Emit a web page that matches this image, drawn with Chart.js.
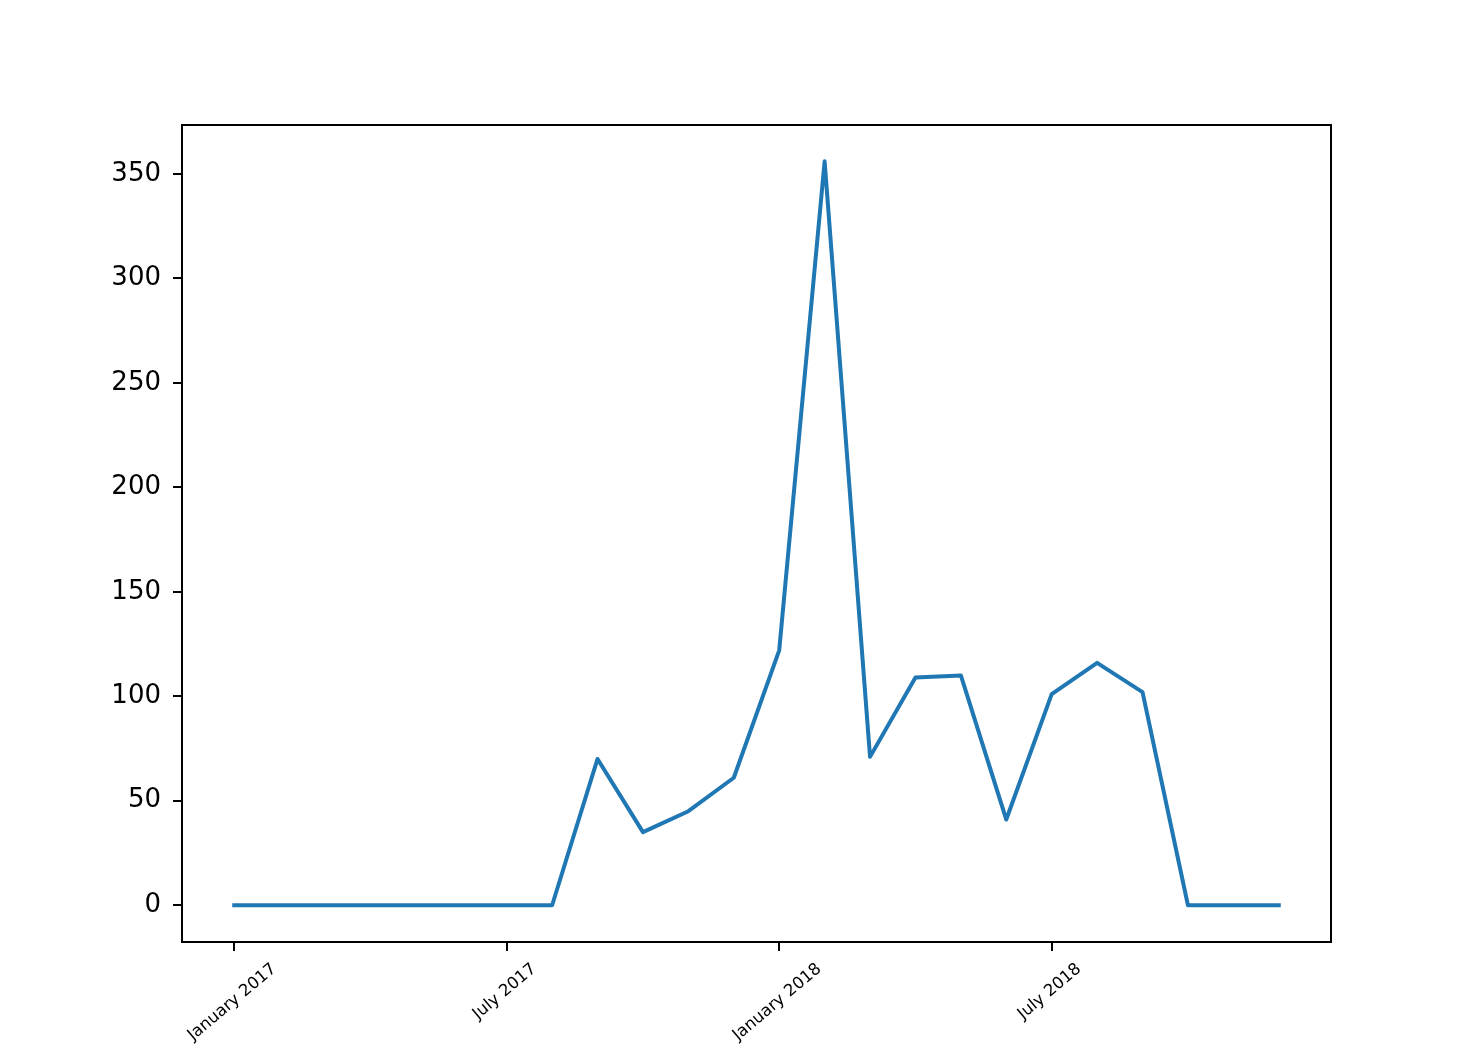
<!DOCTYPE html>
<html lang="en">
<head>
    <meta charset="UTF-8">
    <title>Monthly count 2017-2018</title>
    <script src="https://cdn.jsdelivr.net/npm/chart.js"></script>
    <style>
        body {
            margin: 0;
            background-color: white;
        }
        canvas {
            display: block;
        }
    </style>
</head>
<body>
    <canvas id="lineChart" width="1474" height="1056"></canvas>

    <script>
        // one value per month, January 2017 .. December 2018
        const months = [
            '2017-01', '2017-02', '2017-03', '2017-04', '2017-05', '2017-06',
            '2017-07', '2017-08', '2017-09', '2017-10', '2017-11', '2017-12',
            '2018-01', '2018-02', '2018-03', '2018-04', '2018-05', '2018-06',
            '2018-07', '2018-08', '2018-09', '2018-10', '2018-11', '2018-12'
        ];
        const counts = [0, 0, 0, 0, 0, 0, 0, 0, 70, 35, 45, 61,
                        122, 356, 71, 109, 110, 41, 101, 116, 102, 0, 0, 0];

        const xTickIndex = [0, 6, 12, 18];
        const xTickLabels = ['January 2017', 'July 2017', 'January 2018', 'July 2018'];
        const yTicks = [0, 50, 100, 150, 200, 250, 300, 350];

        const FONT = 'DejaVu Sans';

        // box around the plot + rotated date labels centred under the ticks
        const framePlugin = {
            id: 'frame',
            afterDraw(chart) {
                const ctx = chart.ctx;
                const a = chart.chartArea;
                ctx.save();
                ctx.strokeStyle = 'black';
                ctx.lineWidth = 2;
                ctx.strokeRect(a.left, a.top, a.right - a.left, a.bottom - a.top);

                const xs = chart.scales.x;
                const ang = 40 * Math.PI / 180;
                ctx.font = '16.5px "' + FONT + '"';
                ctx.fillStyle = 'black';
                ctx.textAlign = 'center';
                ctx.textBaseline = 'middle';
                xTickIndex.forEach((idx, i) => {
                    const w = ctx.measureText(xTickLabels[i]).width;
                    const cx = xs.getPixelForValue(idx) - 2;
                    const cy = a.bottom + 25 + w * Math.sin(ang) / 2;
                    ctx.save();
                    ctx.translate(cx, cy);
                    ctx.rotate(-ang);
                    ctx.fillText(xTickLabels[i], 0, 0);
                    ctx.restore();
                });
                ctx.restore();
            }
        };

        const ctx = document.getElementById('lineChart').getContext('2d');
        new Chart(ctx, {
            type: 'line',
            data: {
                datasets: [{
                    data: counts.map((v, i) => ({ x: i, y: v })),
                    borderColor: '#1f77b4',
                    borderWidth: 4,
                    borderJoinStyle: 'round',
                    borderCapStyle: 'square',
                    pointRadius: 0,
                    tension: 0,
                    fill: false
                }]
            },
            options: {
                responsive: false,
                animation: false,
                devicePixelRatio: 1,
                layout: {
                    padding: { top: 125, right: 143, left: 0, bottom: 0 }
                },
                plugins: {
                    legend: { display: false },
                    tooltip: { enabled: false }
                },
                scales: {
                    x: {
                        type: 'linear',
                        min: -1.15,
                        max: 24.15,
                        afterBuildTicks: (scale) => {
                            scale.ticks = xTickIndex.map(v => ({ value: v }));
                        },
                        afterFit: (scale) => { scale.height = 114; },
                        border: { display: false },
                        grid: {
                            drawOnChartArea: false,
                            drawTicks: true,
                            tickLength: 9,
                            color: 'black',
                            lineWidth: 2
                        },
                        ticks: { display: false }
                    },
                    y: {
                        min: -17.6,
                        max: 373.4,
                        afterBuildTicks: (scale) => {
                            scale.ticks = yTicks.map(v => ({ value: v }));
                        },
                        afterFit: (scale) => { scale.width = 182; },
                        border: { display: false },
                        grid: {
                            drawOnChartArea: false,
                            drawTicks: true,
                            tickLength: 9,
                            color: 'black',
                            lineWidth: 2
                        },
                        ticks: {
                            color: 'black',
                            padding: 12,
                            font: { family: FONT, size: 26 }
                        }
                    }
                }
            },
            plugins: [framePlugin]
        });
    </script>
</body>
</html>
